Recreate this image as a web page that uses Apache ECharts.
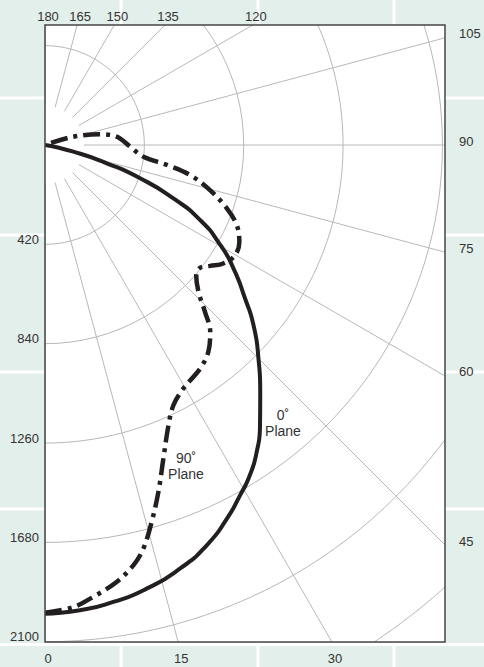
<!DOCTYPE html>
<html><head><meta charset="utf-8">
<script src="https://cdn.jsdelivr.net/npm/echarts@6/dist/echarts.min.js"></script>
<style>html,body{margin:0;padding:0;background:#e3efea;}#c{width:484px;height:667px;}</style>
</head><body><div id="c"></div>
<script>
// 0° plane (solid): angle (deg) and intensity (cd)
const plane0Angles = [0, 4.3, 8.5, 12.9, 17.7, 22.0, 26.0, 29.1, 31.8, 34.6, 37.5, 41.1, 45, 49.2, 52.5, 56.8, 60.3, 64.2, 67.4, 70.7, 73.5, 76.7, 77.5];
const plane0Values = [1981, 1972, 1953, 1924, 1879, 1825, 1756, 1695, 1643, 1576, 1493, 1384, 1276, 1164, 1066, 952, 853, 728, 588, 426, 272, 123, 0];
// 90° plane (dash-dot)
const plane90Angles = [0, 3.5, 6.1, 9.3, 11.9, 13.7, 15.8, 18.1, 20.7, 23.8, 26.3, 29.6, 34.8, 38.3, 41.5, 43.8, 46.3, 49.3, 51.6, 53.8, 56.4, 59.9, 63.5, 67.3, 70.8, 74.7, 78.3, 80.7, 83.2, 88.9, 96.6, 101.0, 106.3, 108.5];
const plane90Values = [1977, 1957, 1921, 1872, 1815, 1756, 1656, 1543, 1416, 1294, 1226, 1184, 1150, 1114, 1054, 977, 897, 843, 836, 865, 905, 929, 918, 879, 814, 723, 626, 522, 419, 360, 305, 237, 125, 0];
const radiusTicks = [420, 840, 1260, 1680, 2100];
const angleTicks = [0, 15, 30, 45, 60, 75, 90, 105, 120, 135, 150, 165, 180];

const chart = echarts.init(document.getElementById('c'), null, {renderer: 'svg'});
const CX = 45, CY = 145, RMAX = 2940, R = 695.5;
const box = {l: 45, t: 25, r: 445, b: 642};
const ink = '#231f20';
const gridColor = '#b8b8b8';
const bg = '#e3efea';
const FONT = '13px "Liberation Sans", Arial, sans-serif';

function pairs(a, v) { return a.map((t, i) => [v[i], t]); }
const hiddenAxis = {axisLine: {show: false}, axisTick: {show: false}, axisLabel: {show: false}};

chart.setOption({
  backgroundColor: '#ffffff',
  animation: false,
  polar: [{center: [CX, CY], radius: R}, {center: [CX, CY], radius: [39, R]}],
  angleAxis: [
    Object.assign({polarIndex: 0, type: 'value', min: 0, max: 360, interval: 15, startAngle: 270, clockwise: false, splitLine: {show: false}}, hiddenAxis),
    Object.assign({polarIndex: 1, type: 'value', min: 0, max: 360, interval: 15, startAngle: 270, clockwise: false, splitLine: {show: true, lineStyle: {color: gridColor, width: 1}}}, hiddenAxis)
  ],
  radiusAxis: [
    Object.assign({polarIndex: 0, type: 'value', min: 0, max: RMAX, interval: 420, splitLine: {show: true, lineStyle: {color: gridColor, width: 1}}}, hiddenAxis),
    Object.assign({polarIndex: 1, type: 'value', min: 0, max: RMAX, interval: 420, splitLine: {show: false}}, hiddenAxis)
  ],
  series: [
    {type: 'line', coordinateSystem: 'polar', polarIndex: 0, data: pairs(plane0Angles, plane0Values), smooth: 0.6, symbol: 'none', lineStyle: {color: ink, width: 4}, z: 5},
    {type: 'line', coordinateSystem: 'polar', polarIndex: 0, data: pairs(plane90Angles, plane90Values), smooth: 0.35, symbol: 'none', lineStyle: {color: ink, width: 4.5, type: [17, 6, 4, 6], cap: 'butt'}, z: 5}
  ]
});

function toPx(v) {
  let p = null;
  try { p = chart.convertToPixel({polarIndex: 0}, v); } catch (e) { p = null; }
  if (!p) p = chart.convertToPixel({seriesIndex: 0}, v);
  return p;
}

const g = [];
const Z = 100;
// background strips outside plot
g.push({type: 'rect', z: Z, silent: true, shape: {x: 0, y: 0, width: 484, height: box.t}, style: {fill: bg}});
g.push({type: 'rect', z: Z, silent: true, shape: {x: 0, y: box.b, width: 484, height: 667 - box.b}, style: {fill: bg}});
g.push({type: 'rect', z: Z, silent: true, shape: {x: 0, y: 0, width: box.l, height: 667}, style: {fill: bg}});
g.push({type: 'rect', z: Z, silent: true, shape: {x: box.r, y: 0, width: 484 - box.r, height: 667}, style: {fill: bg}});
// white background table lines (only visible outside the plot)
const vLines = [121, 258, 394];
const hLines = [98, 235, 372, 509];
vLines.forEach(x => {
  g.push({type: 'line', z: Z + 1, silent: true, shape: {x1: x, y1: 0, x2: x, y2: box.t}, style: {stroke: '#fff', lineWidth: 3}});
  g.push({type: 'line', z: Z + 1, silent: true, shape: {x1: x, y1: box.b, x2: x, y2: 667}, style: {stroke: '#fff', lineWidth: 3}});
});
hLines.forEach(y => {
  g.push({type: 'line', z: Z + 1, silent: true, shape: {x1: 0, y1: y, x2: box.l, y2: y}, style: {stroke: '#fff', lineWidth: 3}});
  g.push({type: 'line', z: Z + 1, silent: true, shape: {x1: box.r, y1: y, x2: 484, y2: y}, style: {stroke: '#fff', lineWidth: 3}});
});
g.push({type: 'line', z: Z + 1, silent: true, shape: {x1: 0, y1: 644.5, x2: 484, y2: 644.5}, style: {stroke: '#fff', lineWidth: 3}});
// plot border
g.push({type: 'rect', z: Z + 2, silent: true, shape: {x: box.l, y: box.t, width: box.r - box.l, height: box.b - box.t}, style: {fill: 'none', stroke: '#454545', lineWidth: 1.5}});

function txt(text, x, y, align, font) {
  return {type: 'text', z: Z + 3, silent: true, x: x, y: y,
    style: {text: text, fill: '#333', font: font || FONT, textAlign: align, textVerticalAlign: 'middle', verticalAlign: 'middle'}};
}
// radius labels on the left
radiusTicks.forEach(v => {
  const p = toPx([v, 0]);
  g.push(txt(String(v), 39, p[1] - 5, 'right'));
});
// angle labels where each ray meets the frame
angleTicks.forEach(a => {
  const c = toPx([0, a]);
  const p = toPx([2100, a]);
  const dx = p[0] - c[0], dy = p[1] - c[1];
  let best = Infinity, edge = '';
  const eps = 1e-6;
  if (dx > eps) { const t = (box.r - c[0]) / dx; if (t < best) { best = t; edge = 'right'; } }
  if (dy > eps) { const t = (box.b - c[1]) / dy; if (t < best) { best = t; edge = 'bottom'; } }
  if (dy < -eps) { const t = (box.t - c[1]) / dy; if (t < best) { best = t; edge = 'top'; } }
  const hx = c[0] + best * dx, hy = c[1] + best * dy;
  if (edge === 'bottom') g.push(txt(String(a), hx + 3, 658, 'center'));
  else if (edge === 'right') g.push(txt(String(a), 459, hy - 4, 'left'));
  else g.push(txt(String(a), hx + 3, 16, 'center'));
});
// plane annotations
const F2 = '14px "Liberation Sans", Arial, sans-serif';
g.push(txt('0˚', 283, 415, 'center', F2));
g.push(txt('Plane', 283, 431, 'center', F2));
g.push(txt('90˚', 186, 458, 'center', F2));
g.push(txt('Plane', 186, 474, 'center', F2));

chart.setOption({graphic: {elements: g}});
</script>
</body></html>
